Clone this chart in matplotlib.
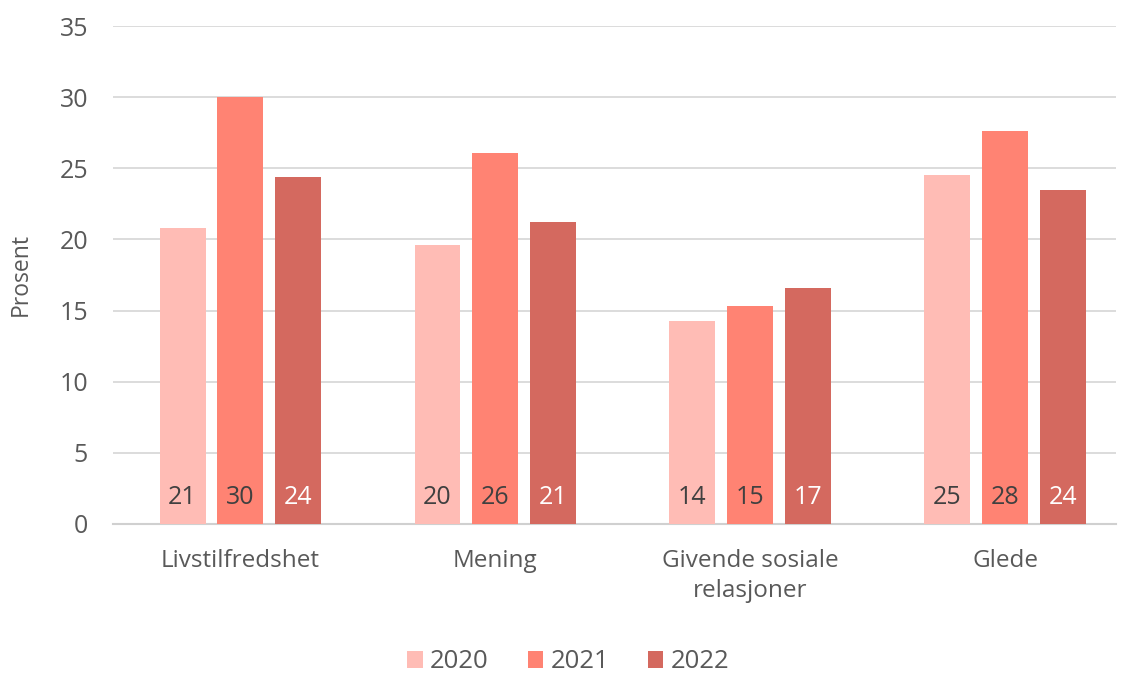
import numpy as np
import matplotlib.pyplot as plt

categories = ['Livstilfredshet', 'Mening', 'Givende sosiale\nrelasjoner', 'Glede']
years = ['2020', '2021', '2022']
values_2020 = [20.8, 19.6, 14.3, 24.5]
values_2021 = [30.0, 26.1, 15.3, 27.6]
values_2022 = [24.4, 21.2, 16.6, 23.5]
labels_2020 = ['21', '20', '14', '25']
labels_2021 = ['30', '26', '15', '28']
labels_2022 = ['24', '21', '17', '24']

colors = ['#FFBCB5', '#FF8373', '#D4695F']
label_colors = ['#404040', '#404040', '#FFFFFF']
text_color = '#595959'

plt.rcParams['font.family'] = ['Open Sans', 'DejaVu Sans']

fig = plt.figure(figsize=(11.21, 6.74), dpi=100)
ax = fig.add_axes([0.1008, 0.2226, 0.8947, 0.7388])

x = np.arange(len(categories))
width = 0.18
step = 0.227
series = [values_2020, values_2021, values_2022]
labels = [labels_2020, labels_2021, labels_2022]
for i, (vals, labs) in enumerate(zip(series, labels)):
    pos = x + (i - 1) * step
    ax.bar(pos, vals, width, color=colors[i], label=years[i], zorder=3)
    for p, lab in zip(pos, labs):
        ax.text(p, 1.85, lab, ha='center', va='center', fontsize=18,
                color=label_colors[i], zorder=4)

ax.set_xlim(-0.5, 3.435)
ax.set_ylim(0, 35)
ax.set_yticks(range(0, 36, 5))
ax.yaxis.grid(True, color='#D9D9D9', linewidth=1.3, zorder=0)
ax.set_axisbelow(True)
for s in ['top', 'right', 'left']:
    ax.spines[s].set_visible(False)
ax.spines['bottom'].set_color('#D0D0D0')
ax.spines['bottom'].set_linewidth(1.5)
ax.tick_params(axis='y', length=0, pad=18, labelsize=18, labelcolor=text_color)
ax.tick_params(axis='x', length=0, pad=18, labelsize=17.5, labelcolor=text_color)
ax.set_xticks(x)
ax.set_xticklabels(categories, linespacing=1.35)
ax.set_ylabel('Prosent', fontsize=16.5, color=text_color, labelpad=19)

ax.legend(loc='center', bbox_to_anchor=(0.454, -0.277), ncol=3, frameon=False,
          fontsize=18.5, labelcolor=text_color, handlelength=0.6, handleheight=0.6,
          handletextpad=0.3, columnspacing=1.5, borderpad=0.1)

fig.savefig('out.png', dpi=100)
